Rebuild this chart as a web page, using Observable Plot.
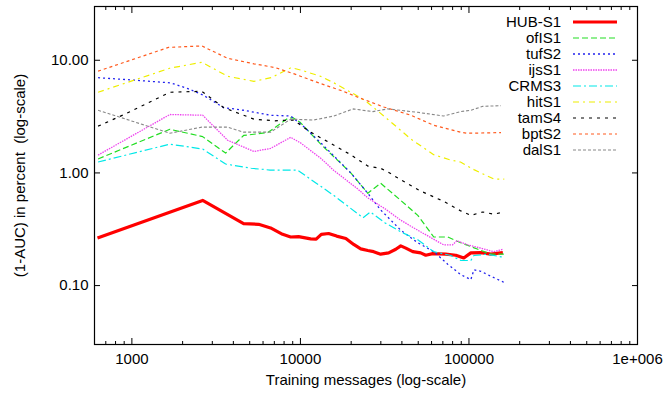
<!DOCTYPE html>
<html><head><meta charset="utf-8">
<script src="https://cdn.jsdelivr.net/npm/d3@7"></script>
<script src="https://cdn.jsdelivr.net/npm/@observablehq/plot@0.6"></script>
<style>body{margin:0;background:#fff}</style>
</head><body><div id="chart"></div>
<script>
// ---- data ----
const HUB_S1 = [[625,0.265],[2630,0.57],[4600,0.355],[5650,0.35],[6650,0.325],[7840,0.285],[8750,0.27],[9750,0.272],[11500,0.26],[12400,0.258],[13300,0.285],[14700,0.29],[16400,0.275],[18600,0.262],[20700,0.232],[22800,0.212],[25100,0.205],[27200,0.2],[29900,0.19],[33400,0.195],[36800,0.21],[39400,0.225],[42200,0.215],[46400,0.2],[51700,0.195],[55400,0.186],[61000,0.192],[72800,0.19],[83500,0.186],[93200,0.176],[102600,0.195],[117500,0.196],[134800,0.19],[158900,0.196]];
const OFIS1 = [[630,1.33],[1680,2.44],[2630,2.1],[3600,1.5],[4600,2.15],[6400,2.28],[8400,3.05],[9000,3.1],[10000,2.8],[13200,1.8],[19900,1.0],[25100,0.66],[29900,0.81],[39400,0.57],[49700,0.42],[61800,0.27],[74800,0.27],[89400,0.24],[113000,0.21],[134800,0.19],[161000,0.19]];
const TUFS2 = [[630,7.0],[980,6.7],[1700,6.3],[2150,5.6],[2650,4.9],[3500,3.8],[4600,3.6],[6650,3.25],[8750,3.2],[10400,2.6],[13200,1.85],[19900,1.0],[25100,0.66],[29900,0.47],[39400,0.31],[49700,0.24],[61800,0.2],[74800,0.155],[89400,0.125],[102600,0.113],[107000,0.138],[117500,0.134],[134800,0.121],[161000,0.107]];
const IJSS1 = [[630,1.44],[1680,3.3],[2630,3.25],[3700,1.95],[5300,1.55],[6650,1.65],[8750,2.07],[10000,1.85],[13200,1.35],[15800,1.05],[21900,0.72],[25100,0.6],[31800,0.48],[39400,0.38],[49700,0.31],[70700,0.23],[80000,0.23],[84800,0.25],[98400,0.23],[117500,0.215],[140000,0.2],[159000,0.21]];
const CRMS3 = [[630,1.25],[1680,1.8],[2630,1.63],[3600,1.2],[5100,1.1],[6600,1.06],[9600,1.06],[13200,0.76],[15800,0.63],[23500,0.40],[26000,0.45],[31800,0.36],[39400,0.30],[49700,0.255],[61800,0.20],[78000,0.185],[89400,0.167],[102600,0.167],[107000,0.185],[128000,0.19],[155000,0.18],[161000,0.175]];
const HITS1 = [[630,5.2],[1680,8.5],[2600,9.6],[3700,7.2],[5300,6.5],[6700,7.0],[8800,8.6],[10000,8.2],[13200,7.2],[15800,6.3],[21900,4.8],[25100,4.2],[32900,3.0],[45200,2.0],[61800,1.45],[78000,1.3],[89000,1.25],[107000,1.07],[141000,0.88],[162000,0.88]];
const TAMS4 = [[630,2.6],[900,3.3],[1680,5.2],[2600,5.3],[3500,3.8],[5300,3.0],[7000,2.9],[9100,2.95],[11000,2.4],[13200,2.05],[19900,1.45],[25100,1.15],[29900,1.1],[33000,1.02],[39400,0.87],[51700,0.69],[70700,0.56],[89400,0.46],[102600,0.42],[121000,0.45],[140000,0.43],[161000,0.45]];
const BPTS2 = [[630,8.0],[1650,13.0],[2600,13.4],[3700,10.4],[5300,9.3],[7100,8.6],[9100,7.6],[13200,6.2],[18000,5.3],[21900,4.7],[31200,3.85],[45200,3.25],[61800,2.65],[89000,2.3],[98000,2.25],[155000,2.28]];
const DALS1 = [[630,3.6],[1680,2.25],[2600,2.55],[3700,2.55],[4600,2.3],[6650,2.3],[8750,3.0],[12000,2.95],[15800,3.2],[20600,3.7],[26900,3.5],[32900,3.7],[49700,3.45],[70700,3.2],[89400,3.5],[102600,3.6],[121000,3.9],[155000,3.95]];

const seriesNames = ["HUB-S1","ofIS1","tufS2","ijsS1","CRMS3","hitS1","tamS4","bptS2","dalS1"];
const seriesData = [HUB_S1, OFIS1, TUFS2, IJSS1, CRMS3, HITS1, TAMS4, BPTS2, DALS1];
const seriesColors = ["#ff0000","#22dd22","#2222ee","#ee44ee","#00e8e8","#eeee00","#000000","#ff5a1e","#888888"];
const seriesDash = [null,"6,3","2,3","1.5,1","8,3,2,3","6,4,2,4","3,5","3,3","3,2"];
const seriesWidth = [3.2,1.2,1.3,1.3,1.2,1.2,1.2,1.2,1.1];

const xMajor = [1000, 10000, 100000, 1000000];
const xTickLabels = ["1000", "10000", "100000", "1e+006"];
const xMinor = [700,800,900,2000,3000,4000,5000,6000,7000,8000,9000,20000,30000,40000,50000,60000,70000,80000,90000,200000,300000,400000,500000,600000,700000,800000,900000];
const yMajor = [0.1, 1, 10];
const yTickLabels = ["0.10", "1.00", "10.00"];
const xTitle = "Training messages (log-scale)";
const yTitle = "(1-AUC) in percent  (log-scale)";

const rows = seriesNames.flatMap((name, i) => seriesData[i].map(([x, y]) => ({name, x, y})));
const xLab = new Map(xMajor.map((v, i) => [v, xTickLabels[i]]));
const yLab = new Map(yMajor.map((v, i) => [v, yTickLabels[i]]));
const blank = () => "";

function legend(index, scales, values, dimensions) {
  const W = dimensions ? dimensions.width : 664;
  const mr = dimensions ? dimensions.marginRight : 27;
  const mt = dimensions ? dimensions.marginTop : 6;
  const right = W - mr;
  const g = d3.create("svg:g");
  seriesNames.forEach((name, i) => {
    const y = mt + 16 + i * 16;
    g.append("text").attr("x", right - 76).attr("y", y).attr("dy", "0.36em")
      .attr("text-anchor", "end").attr("fill", "black").text(name);
    g.append("line").attr("x1", right - 64).attr("x2", right - 20).attr("y1", y).attr("y2", y)
      .attr("stroke", seriesColors[i]).attr("stroke-width", seriesWidth[i])
      .attr("stroke-dasharray", seriesDash[i]);
  });
  return g.node();
}

const chart = Plot.plot({
  width: 664, height: 396,
  marginLeft: 94, marginRight: 27, marginTop: 6, marginBottom: 52,
  style: {fontSize: "15px", fontFamily: "'Liberation Sans', Arial, sans-serif", background: "#fff", color: "#000"},
  x: {type: "log", domain: [600, 1000000], axis: null},
  y: {type: "log", domain: [0.03, 30], axis: null},
  marks: [
    Plot.frame({stroke: "#000", strokeWidth: 1.2}),
    Plot.axisX(xMajor, {anchor: "bottom", tickSize: -6, tickPadding: 15, tickFormat: v => xLab.get(v), label: null}),
    Plot.axisX(xMinor, {anchor: "bottom", tickSize: -3, tickFormat: blank, label: null}),
    Plot.axisX(xMajor, {anchor: "top", tickSize: -6, tickFormat: blank, label: null}),
    Plot.axisX(xMinor, {anchor: "top", tickSize: -3, tickFormat: blank, label: null}),
    Plot.axisY(yMajor, {anchor: "left", tickSize: -6, tickPadding: 12, tickFormat: v => yLab.get(v), label: null}),
    Plot.axisY(yMajor, {anchor: "right", tickSize: -6, tickFormat: blank, label: null}),
    ...seriesNames.map((name, i) => Plot.line(rows.filter(r => r.name === name), {
      x: "x", y: "y", stroke: seriesColors[i], strokeWidth: seriesWidth[i],
      strokeDasharray: seriesDash[i], strokeLinejoin: "round", strokeLinecap: "butt"
    })),
    Plot.text([xTitle], {frameAnchor: "bottom", dy: 40, text: d => d, fill: "#000", textAnchor: "middle"}),
    Plot.text([yTitle], {frameAnchor: "left", dx: -74, rotate: -90, text: d => d, fill: "#000", textAnchor: "middle"}),
    legend
  ]
});
document.getElementById("chart").appendChild(chart);
</script>
</body></html>
